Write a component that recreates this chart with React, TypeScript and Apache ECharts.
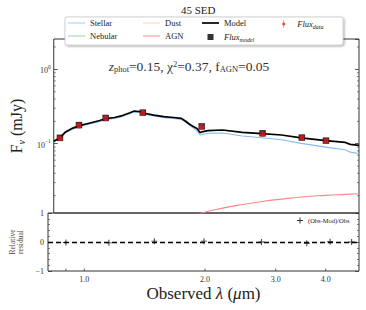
import React, { useEffect, useRef } from 'react';
import * as echarts from 'echarts';

const SERIF = "'Liberation Serif', 'DejaVu Serif', serif";

// ---- data ----
const SED_WAVE = [0.812, 0.831, 0.845, 0.870, 0.905, 0.943, 1.004, 1.063, 1.100, 1.159, 1.213, 1.263, 1.300, 1.338, 1.369, 1.458, 1.545, 1.636, 1.713, 1.753, 1.793, 1.835, 1.877, 1.910, 1.932, 2.000, 2.180, 2.445, 2.744, 3.076, 3.452, 3.984, 4.468, 4.598, 4.842];
const MODEL = [0.108, 0.116, 0.123, 0.144, 0.161, 0.175, 0.190, 0.205, 0.218, 0.225, 0.239, 0.259, 0.275, 0.271, 0.259, 0.243, 0.231, 0.225, 0.219, 0.202, 0.184, 0.170, 0.160, 0.141, 0.144, 0.150, 0.153, 0.142, 0.137, 0.131, 0.120, 0.110, 0.104, 0.098, 0.095];
const STELLAR = [0.105, 0.113, 0.119, 0.140, 0.156, 0.170, 0.184, 0.199, 0.211, 0.218, 0.232, 0.251, 0.267, 0.263, 0.251, 0.236, 0.224, 0.218, 0.212, 0.196, 0.178, 0.164, 0.149, 0.131, 0.132, 0.138, 0.139, 0.127, 0.120, 0.113, 0.101, 0.090, 0.083, 0.077, 0.074];
const AGN_WAVE = [1.458, 1.636, 1.835, 1.932, 2.180, 2.445, 2.744, 3.076, 3.452, 3.984, 4.468, 4.842];
const AGN = [0.0060, 0.0080, 0.0102, 0.0117, 0.0136, 0.0152, 0.0167, 0.0180, 0.0192, 0.0202, 0.0208, 0.0212];

const PHOT_WAVE = [0.842, 0.941, 1.100, 1.367, 1.929, 2.754, 3.465, 3.990];
const FLUX_DATA = [0.118, 0.175, 0.219, 0.259, 0.169, 0.135, 0.120, 0.109];
const FLUX_MODEL = [0.120, 0.178, 0.222, 0.262, 0.171, 0.138, 0.121, 0.110];

const RES_WAVE = [0.900, 1.152, 1.495, 1.988, 2.764, 3.587, 4.10, 4.64];
const RESIDUAL = [-0.02, -0.03, 0.03, 0.03, 0.0, -0.04, 0.01, 0.0];

const X_TICKS = [0.9, 1, 2, 3, 4];
const X_LABELS = [1, 2, 3, 4];
const Y_MINOR = [0.02, 0.03, 0.04, 0.05, 0.06, 0.07, 0.08, 0.09, 0.2, 0.3, 0.4, 0.5, 0.6, 0.7, 0.8, 0.9, 2];

const X_MIN = 0.812;
const X_MAX = 4.84;
const Y_MIN = 0.0117;
const Y_MAX = 2.56;

const FRAME = '#333';
const LINE_ICON = 'path://M0,0H20V1.3H0Z';
const THICK_ICON = 'path://M0,0H20V2H0Z';

const zip = (a: number[], b: number[]) => a.map((v, i) => [v, b[i]]);

function buildOption(): any {
  const supRich = {
    b: { fontSize: 8, fontFamily: SERIF, color: '#333', verticalAlign: 'bottom', lineHeight: 11 },
    s: { fontSize: 5.5, fontFamily: SERIF, color: '#333', verticalAlign: 'top', lineHeight: 6 },
  };
  const legendRich = {
    i: { fontSize: 8.5, fontStyle: 'italic', fontFamily: SERIF, color: '#222', lineHeight: 10 },
    s: { fontSize: 6, fontStyle: 'italic', fontFamily: SERIF, color: '#222', verticalAlign: 'bottom', lineHeight: 12 },
  };
  const legendText = { fontSize: 8.5, fontFamily: SERIF, color: '#222', lineHeight: 10, rich: legendRich };
  const legendFmt = (name: string) => {
    if (name === 'Flux_data') return '{i|Flux}{s|data}';
    if (name === 'Flux_model') return '{i|Flux}{s|model}';
    return name;
  };
  const legendBase = {
    orient: 'vertical',
    itemWidth: 17,
    itemHeight: 8,
    itemGap: 3,
    top: 18,
    padding: 0,
    z: 20,
    textStyle: legendText,
    formatter: legendFmt,
    selectedMode: false,
  };

  return {
    animation: false,
    backgroundColor: '#fff',
    title: {
      text: '45 SED',
      left: 181,
      top: 4,
      padding: 0,
      textStyle: { fontSize: 11, fontWeight: 'normal', fontFamily: SERIF, color: '#222', lineHeight: 12 },
    },
    graphic: [
      {
        type: 'rect',
        z: 15,
        shape: { x: 65, y: 17, width: 278, height: 28, r: 2 },
        style: { fill: '#fff', stroke: '#c8c8c8', lineWidth: 0.8, shadowBlur: 2, shadowOffsetX: 1, shadowOffsetY: 1, shadowColor: 'rgba(0,0,0,0.35)' },
      },
      {
        type: 'text',
        z: 10,
        x: 189,
        y: 66,
        style: {
          text: '{i|z}{sub|phot}{n|=0.15, χ}{sup|2}{n|=0.37, f}{sub|AGN}{n|=0.05}',
          align: 'center',
          verticalAlign: 'middle',
          fill: '#333',
          rich: {
            n: { fontSize: 13.5, fontFamily: SERIF, fill: '#333', lineHeight: 14, verticalAlign: 'middle' },
            i: { fontSize: 13.5, fontFamily: SERIF, fontStyle: 'italic', fill: '#333', lineHeight: 14, verticalAlign: 'middle' },
            sub: { fontSize: 8.5, fontFamily: SERIF, fill: '#333', lineHeight: 9, verticalAlign: 'bottom' },
            sup: { fontSize: 8.5, fontFamily: SERIF, fill: '#333', lineHeight: 9, verticalAlign: 'top' },
          },
        },
      },
    ],
    legend: [
      { ...legendBase, left: 68, data: [{ name: 'Stellar', icon: LINE_ICON }, { name: 'Nebular', icon: LINE_ICON }] },
      { ...legendBase, left: 143, data: [{ name: 'Dust', icon: LINE_ICON }, { name: 'AGN', icon: LINE_ICON }] },
      {
        ...legendBase,
        left: 202,
        itemHeight: 6,
        itemGap: 3,
        data: [{ name: 'Model', icon: THICK_ICON }, { name: 'Flux_model', icon: 'path://M0,0H1V1H0Z' }],
      },
      {
        ...legendBase,
        left: 282,
        data: [{ name: 'Flux_data', icon: 'path://M0.47,0H0.53V1H0.47Z M0.5,0.22L0.72,0.5L0.5,0.78L0.28,0.5Z' }],
      },
      {
        orient: 'horizontal',
        left: 297,
        top: 217,
        padding: 0,
        itemWidth: 6,
        itemHeight: 6,
        itemGap: 2,
        selectedMode: false,
        textStyle: { fontSize: 6.5, fontFamily: SERIF, color: '#222' },
        data: ['(Obs-Mod)/Obs'],
      },
    ],
    grid: [
      { left: 48, right: 7, top: 39, height: 174, show: true, borderColor: FRAME, borderWidth: 1, backgroundColor: 'transparent' },
      { left: 48, right: 7, top: 213, height: 58, show: true, borderColor: FRAME, borderWidth: 1, backgroundColor: 'transparent' },
    ],
    xAxis: [
      { type: 'log', gridIndex: 0, min: X_MIN, max: X_MAX, axisLine: { show: false }, axisTick: { show: false }, axisLabel: { show: false }, splitLine: { show: false } },
      {
        type: 'log', gridIndex: 1, min: X_MIN, max: X_MAX, axisLine: { show: false }, axisTick: { show: false }, axisLabel: { show: false }, splitLine: { show: false },
        name: '{n|Observed }{i|λ}{n| (}{i|μ}{n|m)}',
        nameLocation: 'middle',
        nameGap: 14,
        nameTextStyle: {
          rich: {
            n: { fontSize: 17, fontFamily: SERIF, color: '#222' },
            i: { fontSize: 17, fontFamily: SERIF, fontStyle: 'italic', color: '#222' },
          },
        },
      },
    ],
    yAxis: [
      {
        type: 'log', gridIndex: 0, min: Y_MIN, max: Y_MAX, position: 'left',
        axisLine: { show: false },
        axisTick: { show: true, inside: true, length: 4, lineStyle: { color: FRAME, width: 0.8 } },
        splitLine: { show: false },
        axisLabel: {
          margin: 3,
          showMinLabel: false,
          showMaxLabel: false,
          formatter: (v: number) => {
            const l = Math.log10(v);
            const e = Math.round(l);
            if (Math.abs(l - e) > 1e-6) return '';
            return `{b|10}{s|${e < 0 ? '−' + -e : e}}`;
          },
          rich: supRich,
        },
        name: '{n|F}{s|ν}{n| (mJy)}',
        nameLocation: 'middle',
        nameGap: 25,
        nameRotate: 90,
        nameTextStyle: {
          rich: {
            n: { fontSize: 16, fontFamily: SERIF, color: '#222', verticalAlign: 'top', lineHeight: 18 },
            s: { fontSize: 10, fontFamily: SERIF, fontStyle: 'italic', color: '#222', verticalAlign: 'bottom', lineHeight: 10 },
          },
        },
      },
      {
        type: 'log', gridIndex: 0, min: Y_MIN, max: Y_MAX, position: 'right',
        axisLine: { show: false },
        axisTick: { show: true, inside: true, length: 4, lineStyle: { color: FRAME, width: 0.8 } },
        splitLine: { show: false },
        axisLabel: { show: false },
      },
      {
        type: 'value', gridIndex: 1, min: -1, max: 1, interval: 1, position: 'left',
        axisLine: { show: false },
        axisTick: { show: true, inside: true, length: 4, lineStyle: { color: FRAME, width: 0.8 } },
        minorTick: { show: true, splitNumber: 5, length: 2, lineStyle: { color: FRAME, width: 0.6 } },
        splitLine: { show: false },
        axisLabel: {
          margin: 4,
          fontSize: 8,
          fontFamily: SERIF,
          color: '#333',
          formatter: (v: number) => (v < 0 ? '−' + -v : String(v)),
        },
        name: 'Relative\nresidual',
        nameLocation: 'middle',
        nameGap: 20,
        nameRotate: 90,
        nameTextStyle: { fontSize: 7.5, fontFamily: SERIF, color: '#444', lineHeight: 8 },
      },
      {
        type: 'value', gridIndex: 1, min: -1, max: 1, interval: 1, position: 'right',
        axisLine: { show: false },
        axisTick: { show: true, inside: true, length: 4, lineStyle: { color: FRAME, width: 0.8 } },
        minorTick: { show: true, splitNumber: 5, length: 2, lineStyle: { color: FRAME, width: 0.6 } },
        splitLine: { show: false },
        axisLabel: { show: false },
      },
    ],
    series: [
      {
        name: 'Stellar', type: 'line', xAxisIndex: 0, yAxisIndex: 0, symbol: 'none',
        data: zip(SED_WAVE, STELLAR), lineStyle: { color: '#86bcef', width: 1.1 }, itemStyle: { color: '#a9cff2' }, z: 2,
      },
      { name: 'Nebular', type: 'line', xAxisIndex: 0, yAxisIndex: 0, symbol: 'none', data: [], lineStyle: { color: '#9fd49f', width: 1.1 }, itemStyle: { color: '#a8d8a8' } },
      { name: 'Dust', type: 'line', xAxisIndex: 0, yAxisIndex: 0, symbol: 'none', data: [], lineStyle: { color: '#ffd9b3', width: 1.1 }, itemStyle: { color: '#fcdcbc' } },
      {
        name: 'AGN', type: 'line', xAxisIndex: 0, yAxisIndex: 0, symbol: 'none', smooth: true,
        data: zip(AGN_WAVE, AGN), lineStyle: { color: '#ff8585', width: 1.1 }, itemStyle: { color: '#fb9a9a' }, z: 2,
      },
      {
        name: 'Model', type: 'line', xAxisIndex: 0, yAxisIndex: 0, symbol: 'none',
        data: zip(SED_WAVE, MODEL), lineStyle: { color: '#000', width: 1.7 }, itemStyle: { color: '#000' }, z: 3,
      },
      {
        name: 'Flux_model', type: 'scatter', xAxisIndex: 0, yAxisIndex: 0, symbol: 'rect', symbolSize: 6.5,
        data: zip(PHOT_WAVE, FLUX_MODEL), itemStyle: { color: '#000' }, z: 4,
      },
      {
        name: 'Flux_data', type: 'scatter', xAxisIndex: 0, yAxisIndex: 0, symbol: 'circle', symbolSize: 5.5,
        data: zip(PHOT_WAVE, FLUX_DATA), itemStyle: { color: '#f0141e' }, z: 5,
      },
      {
        name: '(Obs-Mod)/Obs', type: 'scatter', xAxisIndex: 1, yAxisIndex: 2,
        symbol: 'path://M0.42,0H0.58V0.42H1V0.58H0.58V1H0.42V0.58H0V0.42H0.42Z', symbolSize: 6,
        data: zip(RES_WAVE, RESIDUAL), itemStyle: { color: '#000' }, z: 5,
        markLine: {
          silent: true, symbol: 'none', label: { show: false },
          lineStyle: { color: '#000', width: 1.4, type: [5, 3] },
          data: [{ yAxis: 0 }],
        },
      },
      {
        type: 'custom', xAxisIndex: 1, yAxisIndex: 2, silent: true, z: 6,
        data: X_TICKS.map((v) => [v, -1]),
        renderItem: (_p: any, api: any) => {
          const v = api.value(0);
          const p = api.coord([v, -1]);
          const children: any[] = [
            { type: 'line', shape: { x1: p[0], y1: p[1], x2: p[0], y2: p[1] - 2.5 }, style: { stroke: FRAME, lineWidth: 0.8 } },
          ];
          if (X_LABELS.indexOf(v) >= 0) {
            children.push({
              type: 'text',
              style: { text: v.toFixed(1), x: p[0], y: p[1] + 4, align: 'center', verticalAlign: 'top', font: `8px ${SERIF}`, fill: '#333' },
            });
          }
          return { type: 'group', children };
        },
      },
      {
        type: 'custom', xAxisIndex: 0, yAxisIndex: 0, silent: true, z: 6,
        data: X_TICKS.map((v) => [v, Y_MAX]),
        renderItem: (_p: any, api: any) => {
          const p = api.coord([api.value(0), Y_MAX]);
          return { type: 'line', shape: { x1: p[0], y1: p[1], x2: p[0], y2: p[1] + 2.5 }, style: { stroke: FRAME, lineWidth: 0.8 } };
        },
      },
      {
        type: 'custom', xAxisIndex: 0, yAxisIndex: 0, silent: true, z: 6,
        data: Y_MINOR.map((v) => [X_MIN, v]),
        renderItem: (_p: any, api: any) => {
          const v = api.value(1);
          const l = api.coord([X_MIN, v]);
          const r = api.coord([X_MAX, v]);
          return {
            type: 'group',
            children: [
              { type: 'line', shape: { x1: l[0], y1: l[1], x2: l[0] + 2, y2: l[1] }, style: { stroke: FRAME, lineWidth: 0.6 } },
              { type: 'line', shape: { x1: r[0], y1: r[1], x2: r[0] - 2, y2: r[1] }, style: { stroke: FRAME, lineWidth: 0.6 } },
            ],
          };
        },
      },
    ],
  };
}

export default function App() {
  const ref = useRef<HTMLDivElement>(null);
  useEffect(() => {
    document.body.style.margin = '0';
    const chart = echarts.init(ref.current!, null, { renderer: 'svg' });
    chart.setOption(buildOption());
    return () => chart.dispose();
  }, []);
  return <div ref={ref} style={{ width: 366, height: 310 }} />;
}
